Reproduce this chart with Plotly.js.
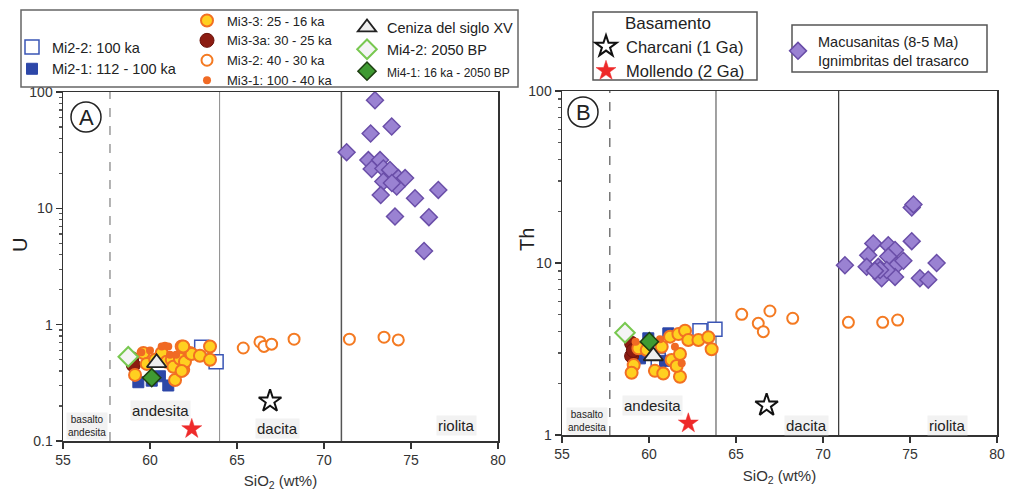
<!DOCTYPE html>
<html><head><meta charset="utf-8">
<script src="https://cdn.plot.ly/plotly-3.0.1.min.js"></script>
<style>html,body{margin:0;padding:0;background:#fff}#chart{width:1010px;height:491px}</style>
</head><body><div id="chart"></div>
<script>
// ---------- DATA ----------
// Panel A: SiO2 (wt%) vs U ; Panel B: SiO2 (wt%) vs Th
const mi22_sio2_A = [62.97, 63.8];
const mi22_U      = [0.64, 0.48];
const mi22_sio2_B = [62.93, 63.79, 60.53];
const mi22_Th     = [4.04, 4.12, 2.73];

const mi21_sio2_A = [59.33, 60.1, 60.57, 61.05];
const mi21_U      = [0.32, 0.33, 0.36, 0.30];
const mi21_sio2_B = [59.96, 61.11, 59.48, 60.92];
const mi21_Th     = [3.65, 3.9, 2.79, 2.7];

const mi33_sio2_A = [59.14, 59.62, 59.81, 60.3, 60.67, 60.96, 61.25, 61.34, 61.44, 61.72, 61.82, 61.91, 62.01, 62.3, 62.39, 62.87, 63.45, 63.45, 61.82, 61.91];
const mi33_U      = [0.37, 0.57, 0.46, 0.5, 0.57, 0.48, 0.50, 0.435, 0.334, 0.51, 0.65, 0.41, 0.48, 0.57, 0.56, 0.54, 0.65, 0.50, 0.40, 0.65];
const mi33_sio2_B = [61.21, 61.69, 62.07, 62.26, 62.84, 63.41, 63.6, 59.39, 59.12, 59.0, 60.34, 60.82, 61.78, 61.3, 61.78, 61.59, 60.73, 59.87];
const mi33_Th     = [3.73, 3.86, 4.04, 3.57, 3.57, 3.7, 3.15, 3.19, 2.55, 2.3, 2.36, 2.28, 2.18, 2.73, 2.96, 2.52, 3.26, 3.12];

const mi33a_sio2_A = [58.95, 59.04];
const mi33a_U      = [0.51, 0.45];
const mi33a_sio2_B = [59.0, 59.0, 59.1];
const mi33a_Th     = [3.41, 2.88, 3.1];

const mi32_sio2_A = [65.36, 66.32, 66.55, 66.99, 68.28, 71.46, 73.45, 74.27];
const mi32_U      = [0.63, 0.71, 0.65, 0.68, 0.75, 0.75, 0.78, 0.74];
const mi32_sio2_B = [65.33, 66.95, 66.28, 66.57, 68.26, 71.46, 73.43, 74.29];
const mi32_Th     = [5.03, 5.26, 4.46, 3.99, 4.77, 4.52, 4.52, 4.66];

const mi31_sio2_A = [60.0, 60.67, 60.86, 61.05, 61.15, 61.5, 59.5];
const mi31_U      = [0.6, 0.65, 0.66, 0.65, 0.55, 0.55, 0.58];
const mi31_sio2_B = [60.63, 61.88, 61.49, 59.23];
const mi31_Th     = [3.6, 2.61, 3.26, 3.49];

const cen_sio2_A = [60.38];  const cen_U = [0.47];
const cen_sio2_B = [60.25];  const cen_Th = [2.88];

const mi42_sio2_A = [58.75]; const mi42_U = [0.53];
const mi42_sio2_B = [58.62]; const mi42_Th = [3.93];

const mi41_sio2_A = [60.1];  const mi41_U = [0.35];
const mi41_sio2_B = [60.02]; const mi41_Th = [3.49];

const cha_sio2_A = [66.9];  const cha_U = [0.22];
const cha_sio2_B = [66.76]; const cha_Th = [1.49];

const mol_sio2_A = [62.4];  const mol_U = [0.127];
const mol_sio2_B = [62.26]; const mol_Th = [1.17];

const mac_sio2_A = [72.93, 71.3, 72.68, 73.89, 72.55, 73.22, 72.74, 73.41, 73.79, 73.41, 74.27, 74.66, 74.18, 73.9, 73.26, 75.23, 76.57, 74.08, 76.03, 75.75];
const mac_U      = [85, 30.4, 44, 50.5, 26, 26, 21.8, 22, 21.4, 17, 18.2, 18.2, 15.4, 16.5, 13, 12.2, 14.4, 8.5, 8.4, 4.3];
const mac_sio2_B = [71.26, 72.89, 72.6, 73.75, 74.14, 72.51, 73.18, 73.75, 74.23, 74.62, 73.37, 74.14, 73.66, 75.1, 75.1, 75.2, 75.57, 76.05, 76.53, 73.28, 72.98];
const mac_Th     = [9.7, 13, 11.1, 12.7, 11.9, 9.5, 9.5, 10.9, 9.7, 10.3, 8.15, 8.3, 9.1, 13.4, 21, 21.9, 8.15, 8.0, 10.0, 9.1, 9.0];

const xTicks = [55, 60, 65, 70, 75, 80];
const yTicksA = [0.1, 1, 10, 100];
const yTicksB = [1, 10, 100];

// ---------- TRACES ----------
const F = 'Liberation Sans, Arial, sans-serif';
const traces = [];
function add(name, xa, ya, xb, yb, marker, legend, rank) {
  const g = name;
  traces.push({type:'scatter', mode:'markers', name:name, x:xa, y:ya, xaxis:'x', yaxis:'y',
    marker:marker, legend:legend, legendgroup:g, legendrank:rank, showlegend:true, hoverinfo:'x+y'});
  traces.push({type:'scatter', mode:'markers', name:name, x:xb, y:yb, xaxis:'x2', yaxis:'y2',
    marker:marker, legend:legend, legendgroup:g, legendrank:rank, showlegend:false, hoverinfo:'x+y'});
}
add('Macusanitas (8-5 Ma)<br>Ignimbritas del trasarco', mac_sio2_A, mac_U, mac_sio2_B, mac_Th,
  {symbol:'diamond', size:13, color:'#9a82d2', line:{color:'#6a4ea8', width:1.5}}, 'legend5', 1);
add('Mi3-2: 40 - 30 ka', mi32_sio2_A, mi32_U, mi32_sio2_B, mi32_Th,
  {symbol:'circle', size:11, color:'#ffffff', line:{color:'#f47a22', width:2}}, 'legend2', 3);
add('Mi2-2: 100 ka', mi22_sio2_A, mi22_U, mi22_sio2_B, mi22_Th,
  {symbol:'square', size:14, color:'#ffffff', line:{color:'#3a55b5', width:1.5}}, 'legend', 1);
add('Mi2-1: 112 - 100 ka', mi21_sio2_A, mi21_U, mi21_sio2_B, mi21_Th,
  {symbol:'square', size:11, color:'#2d47a8', line:{color:'#2d47a8', width:1}}, 'legend', 2);
add('Mi3-3a: 30 - 25 ka', mi33a_sio2_A, mi33a_U, mi33a_sio2_B, mi33a_Th,
  {symbol:'circle', size:14, color:'#8c1c12', line:{color:'#6a120a', width:1}}, 'legend2', 2);
add('Mi3-3: 25 - 16 ka', mi33_sio2_A, mi33_U, mi33_sio2_B, mi33_Th,
  {symbol:'circle', size:12, color:'#ffd020', line:{color:'#f27022', width:2}}, 'legend2', 1);
add('Mi3-1: 100 - 40 ka', mi31_sio2_A, mi31_U, mi31_sio2_B, mi31_Th,
  {symbol:'circle', size:8, color:'#f06a24', line:{color:'#f06a24', width:0}}, 'legend2', 4);
add('Mi4-2: 2050 BP', mi42_sio2_A, mi42_U, mi42_sio2_B, mi42_Th,
  {symbol:'diamond', size:15, color:'#f4f4f4', line:{color:'#78c850', width:2}}, 'legend3', 2);
add('<span style="font-size:12px">Mi4-1: 16 ka - 2050 BP</span>', mi41_sio2_A, mi41_U, mi41_sio2_B, mi41_Th,
  {symbol:'diamond', size:14, color:'#3f9a32', line:{color:'#1e3f12', width:1.5}}, 'legend3', 3);
add('Ceniza del siglo XV', cen_sio2_A, cen_U, cen_sio2_B, cen_Th,
  {symbol:'triangle-up', size:17, color:'#eeeeee', line:{color:'#222222', width:1.8}}, 'legend3', 1);
add('Charcani (1 Ga)', cha_sio2_A, cha_U, cha_sio2_B, cha_Th,
  {symbol:'star', size:17, color:'#ffffff', line:{color:'#111111', width:2}}, 'legend4', 1);
add('Mollendo (2 Ga)', mol_sio2_A, mol_U, mol_sio2_B, mol_Th,
  {symbol:'star', size:15, color:'#ee2a2a', line:{color:'#ee2a2a', width:0.5}}, 'legend4', 2);

// ---------- AXES ----------
function minorVals(lo, hi) { const v=[]; for (let d=lo; d<hi; d++) for (let k=2;k<=9;k++) v.push(k*Math.pow(10,d)); return v; }
const tickfont = {family:F, size:14, color:'#333'};
function xax(domain, anchor) {
  return {domain:domain, anchor:anchor, range:[55,80], tickmode:'array', tickvals:xTicks, ticktext:xTicks.map(String),
    ticks:'outside', ticklen:6, tickwidth:1.3, tickcolor:'#333', showline:true, mirror:true, linecolor:'#333', linewidth:1.5,
    showgrid:false, zeroline:false, tickfont:tickfont,
    title:{text:'SiO<sub>2</sub> (wt%)', font:{family:F, size:15, color:'#333'}, standoff:9}};
}
function yax(domain, anchor, range, tv) {
  return {domain:domain, anchor:anchor, type:'log', range:range, tickmode:'array', tickvals:tv, ticktext:tv.map(String),
    ticks:'outside', ticklen:6, tickwidth:1.3, tickcolor:'#333', showline:true, mirror:true, linecolor:'#333', linewidth:1.5,
    showgrid:false, zeroline:false, tickfont:tickfont,
    minor:{tickmode:'array', tickvals:minorVals(range[0], range[1]), ticks:'outside', ticklen:3, tickcolor:'#555', showgrid:false}};
}

const P = (px) => px/1010, Q = (py) => 1 - py/491;

const shapes = [];
// classification boundaries
[['x','y domain','#9a9a9a','dash',1.5,57.7],['x','y domain','#8a8a8a','solid',1,64.0],['x','y domain','#555','solid',1.5,71.0],
 ['x2','y2 domain','#333','dash',1,57.75],['x2','y2 domain','#444','solid',1,63.85],['x2','y2 domain','#333','solid',1.2,70.9]]
 .forEach(s => shapes.push({type:'line', xref:s[0], yref:s[1], x0:s[5], x1:s[5], y0:0, y1:1, line:{color:s[2], dash:s[3], width:s[4]}, layer:'below'}));
// panel letters circles
shapes.push({type:'circle', xref:'paper', yref:'paper', xsizemode:'pixel', ysizemode:'pixel', xanchor:P(86), yanchor:Q(117), x0:-15, x1:15, y0:-15, y1:15, line:{color:'#222', width:1.5}});
shapes.push({type:'circle', xref:'paper', yref:'paper', xsizemode:'pixel', ysizemode:'pixel', xanchor:P(583), yanchor:Q(112), x0:-15, x1:15, y0:-15, y1:15, line:{color:'#222', width:1.5}});
// legend frames
shapes.push({type:'rect', xref:'paper', yref:'paper', x0:P(21), x1:P(518), y0:Q(87), y1:Q(10), line:{color:'#666', width:1.5}});
shapes.push({type:'rect', xref:'paper', yref:'paper', x0:P(593), x1:P(757), y0:Q(80), y1:Q(12), line:{color:'#555', width:1.5}});
shapes.push({type:'rect', xref:'paper', yref:'paper', x0:P(792), x1:P(987), y0:Q(72), y1:Q(25), line:{color:'#555', width:1.5}});

const lab = (text, x, y, size, angle, bg) => ({text:text, xref:'paper', yref:'paper', x:P(x), y:Q(y), showarrow:false,
  font:{family:F, size:size||15, color:'#222'}, xanchor:'center', yanchor:'middle', textangle:angle||0,
  bgcolor: bg ? 'rgba(232,232,232,0.55)' : 'rgba(0,0,0,0)', borderpad:1});
const annotations = [
  lab('andesita',160,410,15,0,1), lab('dacita',277,428,15,0,1), lab('riolita',456,425,15,0,1),
  lab('basalto<br>andesita',87,426,10,0,1), lab('A',86,117,22),
  lab('andesita',652,405,15,0,1), lab('dacita',806,425,15,0,1), lab('riolita',947,425,15,0,1),
  lab('basalto<br>andesita',587,421,10,0,1), lab('B',583,112,22),
  lab('U',20,245,20,-90), lab('Th',527,240,20,-90)
];

const legBase = {xanchor:'left', yanchor:'top', bgcolor:'rgba(0,0,0,0)', borderwidth:0, font:{family:F, size:14, color:'#222'},
  itemwidth:30, traceorder:'normal', orientation:'v', tracegroupgap:0};
const layout = {
  width:1010, height:491, margin:{l:0, r:0, t:0, b:0}, paper_bgcolor:'#fff', plot_bgcolor:'#fff',
  font:{family:F, color:'#222'},
  xaxis: xax([P(63), P(498)], 'y'),
  yaxis: yax([1-441/491, 1-92/491], 'x', [-1, 2], yTicksA),
  xaxis2: xax([P(562), P(997)], 'y2'),
  yaxis2: yax([1-435/491, 1-91/491], 'x2', [0, 2], yTicksB),
  legend: Object.assign({}, legBase, {x:P(12), y:Q(31), font:{family:F, size:14.5, color:'#222'}}),
  legend2: Object.assign({}, legBase, {x:P(187), y:Q(5.5), font:{family:F, size:13, color:'#222'}}),
  legend3: Object.assign({}, legBase, {x:P(347), y:Q(11.5), tracegroupgap:2, font:{family:F, size:14.5, color:'#222'}}),
  legend4: Object.assign({}, legBase, {x:P(586), y:Q(7), font:{family:F, size:16.5, color:'#222'},
     title:{text:'Basamento', side:'top center', font:{family:F, size:17, color:'#222'}}}),
  legend5: Object.assign({}, legBase, {x:P(778), y:Q(25.5), font:{family:F, size:14.5, color:'#222'}}),
  shapes:shapes, annotations:annotations, showlegend:true
};
Plotly.newPlot('chart', traces, layout, {displayModeBar:false, staticPlot:true});
</script></body></html>
